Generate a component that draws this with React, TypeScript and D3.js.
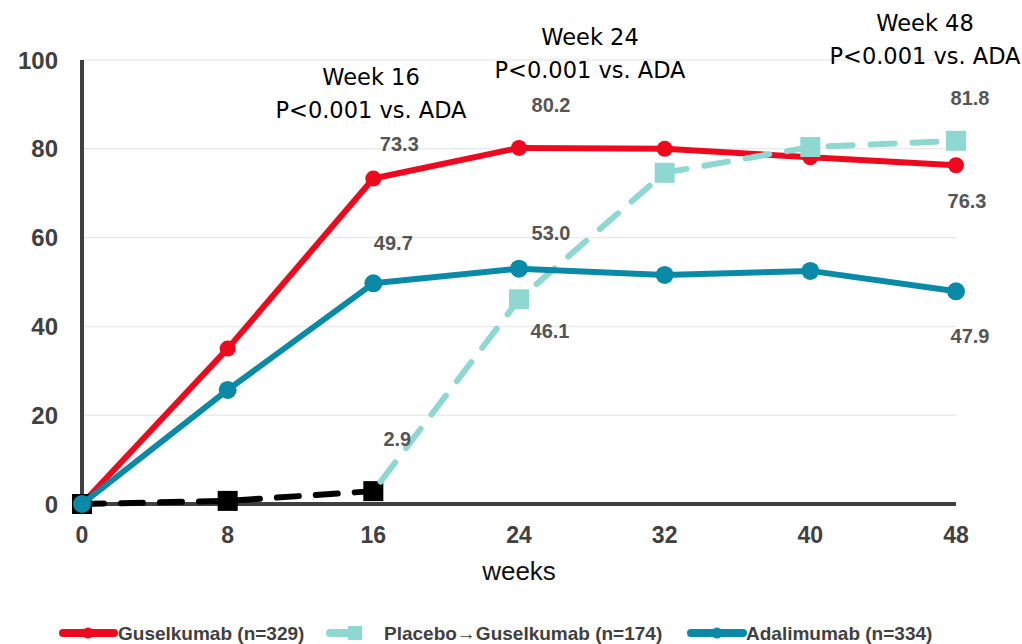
import React from 'react';
import * as d3 from 'd3';

const weeks = [0, 8, 16, 24, 32, 40, 48];
const guselkumab = [0, 35.0, 73.3, 80.2, 80.0, 78.1, 76.3];
const adalimumab = [0, 25.7, 49.7, 53.0, 51.6, 52.5, 47.9];
const placeboWeeks = [0, 8, 16];
const placebo = [0, 0.7, 2.9];
const crossoverWeeks = [16, 24, 32, 40, 48];
const crossover = [2.9, 46.1, 74.6, 80.4, 81.8];
const yTicks = [0, 20, 40, 60, 80, 100];

// value labels shown on the chart: [week, value, series]
const valueLabels: Array<[number, number, string]> = [
    [16, 73.3, 'gus'], [24, 80.2, 'gus'], [48, 76.3, 'gus'],
    [16, 49.7, 'ada'], [24, 53.0, 'ada'], [48, 47.9, 'ada'],
    [16, 2.9, 'pbo'], [24, 46.1, 'pbo'], [48, 81.8, 'pbo'],
];
const annotations = [
    {week: 16, lines: ['Week 16', 'P<0.001 vs. ADA']},
    {week: 24, lines: ['Week 24', 'P<0.001 vs. ADA']},
    {week: 48, lines: ['Week 48', 'P<0.001 vs. ADA']},
];

const RED = '#ee0a1e';
const ADA = '#0b8aa8';
const PBO = '#8fd8d1';
const AXIS = '#404040';
const ARIAL = 'Liberation Sans, Arial, sans-serif';

const width = 1022;
const height = 644;
const margin = {top: 60, left: 82, right: 66, bottom: 140};

function App() {
    const x = d3.scaleLinear().domain([0, 48]).range([margin.left, width - margin.right]);
    const y = d3.scaleLinear().domain([0, 100]).range([height - margin.bottom, margin.top]);

    const line = d3.line<[number, number]>().x(d => x(d[0])).y(d => y(d[1]));
    const gusPts = weeks.map((w, i) => [w, guselkumab[i]] as [number, number]);
    const adaPts = weeks.map((w, i) => [w, adalimumab[i]] as [number, number]);
    const pboPts = placeboWeeks.map((w, i) => [w, placebo[i]] as [number, number]);
    const crossPts = crossoverWeeks.map((w, i) => [w, crossover[i]] as [number, number]);

    // label offsets relative to the point
    const labelOffset = (week: number, s: string) => {
        if (week === 48) {
            if (s === 'gus') return {dx: 11, dy: 43};
            if (s === 'ada') return {dx: 14, dy: 52};
            return {dx: 14, dy: -36};
        }
        if (s === 'pbo' && week === 24) return {dx: 31, dy: 39};
        if (s === 'pbo') return {dx: 24, dy: -45};
        if (week === 24) return {dx: 32, dy: s === 'ada' ? -29 : -36};
        if (s === 'ada') return {dx: 20, dy: -33};
        return {dx: 26, dy: -28};
    };

    const annoY: Record<number, number> = {16: 85, 24: 45, 48: 31};
    const annoX: Record<number, number> = {16: 371, 24: 590, 48: 925};

    return (
        <svg width={width} height={height} style={{position: 'absolute', left: 0, top: 0, background: '#fff'}}>
            {/* gridlines */}
            {yTicks.filter(t => t > 0).map(t => (
                <line key={t} x1={x(0)} x2={x(48)} y1={y(t)} y2={y(t)} stroke="#ebebeb" strokeWidth={1.5}/>
            ))}
            {/* axes */}
            <line x1={x(0)} x2={x(0)} y1={y(100)} y2={y(0)} stroke={AXIS} strokeWidth={4}/>
            <line x1={x(0)} x2={x(48)} y1={y(0)} y2={y(0)} stroke={AXIS} strokeWidth={4}/>
            {yTicks.map(t => (
                <text key={t} x={58} y={y(t)} dy="0.36em" textAnchor="end" fontFamily={ARIAL}
                      fontWeight="bold" fontSize={24} fill={AXIS}>{t}</text>
            ))}
            {weeks.map(w => (
                <text key={w} x={x(w)} y={543} textAnchor="middle" fontFamily={ARIAL}
                      fontWeight="bold" fontSize={23} fill={AXIS}>{w}</text>
            ))}
            <text x={x(24)} y={580} textAnchor="middle" fontFamily={ARIAL}
                  fontSize={26} fill="#111">weeks</text>

            {/* guselkumab */}
            <path d={line(gusPts) || ''} fill="none" stroke={RED} strokeWidth={6} strokeLinejoin="round"/>
            {gusPts.map((p, i) => <circle key={i} cx={x(p[0])} cy={y(p[1])} r={8} fill={RED}/>)}

            {/* placebo period */}
            <path d={line(pboPts) || ''} fill="none" stroke="#000" strokeWidth={6} strokeDasharray="22 17"
                  strokeLinecap="round"/>
            {pboPts.map((p, i) => <rect key={i} x={x(p[0]) - 10} y={y(p[1]) - 10} width={20} height={20} fill="#000"/>)}

            {/* placebo -> guselkumab */}
            <path d={line(crossPts) || ''} fill="none" stroke={PBO} strokeWidth={6} strokeDasharray="24 18"
                  strokeDashoffset={-12} strokeLinecap="round"/>
            {crossPts.slice(1).map((p, i) => <rect key={i} x={x(p[0]) - 10} y={y(p[1]) - 10} width={20} height={20} fill={PBO}/>)}

            {/* adalimumab */}
            <path d={line(adaPts) || ''} fill="none" stroke={ADA} strokeWidth={6} strokeLinejoin="round"/>
            {adaPts.map((p, i) => <circle key={i} cx={x(p[0])} cy={y(p[1])} r={9} fill={ADA}/>)}

            {/* value labels */}
            {valueLabels.map(([w, v, s], i) => {
                const o = labelOffset(w, s);
                return (
                    <text key={i} x={x(w) + o.dx} y={y(v) + o.dy} textAnchor="middle"
                          fontFamily={ARIAL} fontWeight="bold" fontSize={20}
                          fill="#555">{v.toFixed(1)}</text>
                );
            })}

            {/* annotations */}
            {annotations.map(a => (
                <text key={a.week} textAnchor="middle" fontFamily="DejaVu Sans, Verdana, sans-serif" fontSize={22.5}
                      fill="#000">
                    {a.lines.map((l, j) => (
                        <tspan key={j} x={annoX[a.week]} y={annoY[a.week] + j * 33}>{l}</tspan>
                    ))}
                </text>
            ))}

            {/* legend */}
            <g fontFamily={ARIAL} fontWeight="bold" fontSize={19} fill={AXIS}>
                <line x1={63} x2={114} y1={633} y2={633} stroke={RED} strokeWidth={8} strokeLinecap="round"/>
                <circle cx={88} cy={633} r={5.5} fill={RED}/>
                <text x={118} y={640}>Guselkumab (n=329)</text>
                <line x1={330} x2={358} y1={633} y2={633} stroke={PBO} strokeWidth={8} strokeLinecap="round"/>
                <rect x={348} y={626} width={14} height={14} fill={PBO}/>
                <text x={384} y={640}>Placebo→Guselkumab (n=174)</text>
                <line x1={691} x2={743} y1={633} y2={633} stroke={ADA} strokeWidth={8} strokeLinecap="round"/>
                <circle cx={717} cy={633} r={5.5} fill={ADA}/>
                <text x={746} y={640}>Adalimumab (n=334)</text>
            </g>
        </svg>
    );
}

export default App;
